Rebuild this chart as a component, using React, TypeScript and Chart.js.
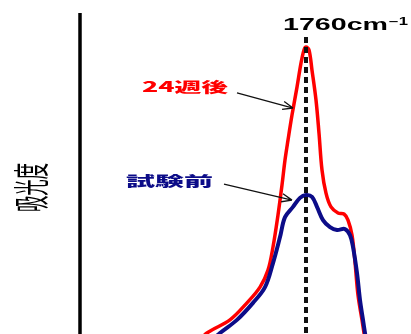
import React, { useEffect, useRef } from "react";
import { Chart, registerables } from "chart.js";

Chart.register(...registerables);

// Wavenumber (cm-1) and absorbance (arbitrary units)
const redWavenumbers = [1871, 1859, 1836, 1819, 1806, 1798, 1793, 1788, 1784, 1781, 1778, 1774, 1769, 1765, 1762, 1760, 1757, 1754, 1750, 1747, 1744, 1740, 1735, 1728, 1722, 1718, 1714, 1711, 1708, 1704, 1702, 1700];
const redAbsorbance = [-0.034, 0.003, 0.044, 0.097, 0.146, 0.199, 0.271, 0.371, 0.464, 0.542, 0.604, 0.682, 0.769, 0.844, 0.885, 0.894, 0.885, 0.822, 0.729, 0.626, 0.511, 0.439, 0.396, 0.377, 0.374, 0.355, 0.308, 0.224, 0.121, 0.044, 0.003, -0.034];

const blueWavenumbers = [1859, 1846, 1829, 1813, 1801, 1793, 1786, 1781, 1773, 1766, 1760, 1754, 1749, 1743, 1736, 1729, 1721, 1716, 1713, 1709, 1706, 1703, 1701, 1699];
const blueAbsorbance = [-0.034, 0.003, 0.044, 0.097, 0.146, 0.221, 0.302, 0.364, 0.396, 0.424, 0.433, 0.427, 0.396, 0.355, 0.333, 0.324, 0.327, 0.308, 0.271, 0.19, 0.106, 0.044, 0.003, -0.034];

const seriesLabels = ["試験前", "24週後"];
const peakWavenumber = 1760;
const peakLabel = "1760cm";
const peakLabelSup = "−1";
const yAxisTitle = "吸光度";

// annotation arrows: [fromWavenumber, fromAbs, toWavenumber, toAbs]
const redArrow = [1829, 0.751, 1773, 0.704];
const blueArrow = [1842, 0.467, 1774, 0.417];

const RED = "#ff0000";
const NAVY = "#0c0c88";

function drawStretched(ctx: CanvasRenderingContext2D, text: string, x: number, y: number, width: number, font: string, color: string, baseline: CanvasTextBaseline) {
  ctx.save();
  ctx.font = font;
  ctx.fillStyle = color;
  ctx.textBaseline = baseline;
  ctx.textAlign = "left";
  const w = ctx.measureText(text).width;
  ctx.translate(x, y);
  ctx.scale(width / w, 1);
  ctx.fillText(text, 0, 0);
  ctx.restore();
}

function drawArrow(ctx: CanvasRenderingContext2D, x1: number, y1: number, x2: number, y2: number) {
  ctx.save();
  ctx.strokeStyle = "#111";
  ctx.lineWidth = 1.3;
  ctx.beginPath();
  ctx.moveTo(x1, y1);
  ctx.lineTo(x2, y2);
  const ang = Math.atan2(y2 - y1, x2 - x1);
  const len = 11;
  const spread = 0.38;
  ctx.moveTo(x2, y2);
  ctx.lineTo(x2 - len * Math.cos(ang - spread), y2 - len * Math.sin(ang - spread));
  ctx.moveTo(x2, y2);
  ctx.lineTo(x2 - len * Math.cos(ang + spread), y2 - len * Math.sin(ang + spread));
  ctx.stroke();
  ctx.restore();
}

const decorPlugin = {
  id: "decor",
  afterDatasetsDraw(chart: any) {
    const ctx: CanvasRenderingContext2D = chart.ctx;
    const xs = chart.scales.x;
    const ys = chart.scales.y;
    const area = chart.chartArea;

    // left axis line
    ctx.save();
    ctx.strokeStyle = "#000";
    ctx.lineWidth = 3.5;
    ctx.beginPath();
    ctx.moveTo(area.left, area.top);
    ctx.lineTo(area.left, area.bottom);
    ctx.stroke();

    // dashed peak line
    const px = xs.getPixelForValue(peakWavenumber);
    ctx.lineWidth = 4;
    ctx.setLineDash([6, 4]);
    ctx.strokeStyle = "#111";
    ctx.beginPath();
    ctx.moveTo(px, 37);
    ctx.lineTo(px, area.bottom);
    ctx.stroke();
    ctx.restore();

    // arrows
    drawArrow(ctx, xs.getPixelForValue(redArrow[0]), ys.getPixelForValue(redArrow[1]), xs.getPixelForValue(redArrow[2]), ys.getPixelForValue(redArrow[3]));
    drawArrow(ctx, xs.getPixelForValue(blueArrow[0]), ys.getPixelForValue(blueArrow[1]), xs.getPixelForValue(blueArrow[2]), ys.getPixelForValue(blueArrow[3]));

    // labels
    drawStretched(ctx, seriesLabels[1], 142, 87, 86, "900 14px 'Noto Sans CJK JP'", RED, "middle");
    drawStretched(ctx, seriesLabels[0], 126, 181, 87, "900 14px 'Noto Sans CJK JP'", NAVY, "middle");
    drawStretched(ctx, peakLabel, 283, 30, 105, "bold 16.5px 'Liberation Sans'", "#000", "alphabetic");
    drawStretched(ctx, peakLabelSup, 389, 25, 19, "bold 10px 'Liberation Sans'", "#000", "alphabetic");

    // y axis title (rotated, stretched)
    ctx.save();
    ctx.font = "15px 'Noto Sans CJK JP'";
    ctx.fillStyle = "#000";
    ctx.textAlign = "center";
    ctx.textBaseline = "middle";
    const tw = ctx.measureText(yAxisTitle).width;
    ctx.translate(31, 187.5);
    ctx.rotate(-Math.PI / 2);
    ctx.scale(49 / tw, 2.4);
    ctx.fillText(yAxisTitle, 0, 0);
    ctx.restore();
  },
};

export default function App() {
  const ref = useRef<HTMLCanvasElement>(null);
  useEffect(() => {
    document.body.style.margin = "0";
    const blue = blueWavenumbers.map((x, i) => ({ x, y: blueAbsorbance[i] }));
    const red = redWavenumbers.map((x, i) => ({ x, y: redAbsorbance[i] }));
    const chart = new Chart(ref.current as HTMLCanvasElement, {
      type: "line",
      data: {
        datasets: [
          { label: seriesLabels[0], data: blue, borderColor: NAVY, borderWidth: 4, pointRadius: 0, tension: 0.35, fill: false },
          { label: seriesLabels[1], data: red, borderColor: RED, borderWidth: 3.5, pointRadius: 0, tension: 0.35, fill: false },
        ],
      },
      options: {
        animation: false,
        responsive: false,
        layout: { padding: { left: 80, top: 13, right: 0, bottom: 0 } },
        plugins: { legend: { display: false }, tooltip: { enabled: false } },
        scales: {
          x: { type: "linear", min: 1655, max: 1986, reverse: true, display: false },
          y: { min: 0, max: 1, display: false },
        },
      },
      plugins: [decorPlugin],
    });
    return () => chart.destroy();
  }, []);
  return (
    <div style={{ position: "absolute", left: 0, top: 0, width: 411, height: 334, background: "#fff" }}>
      <canvas ref={ref} width={411} height={334} style={{ display: "block" }} />
    </div>
  );
}
